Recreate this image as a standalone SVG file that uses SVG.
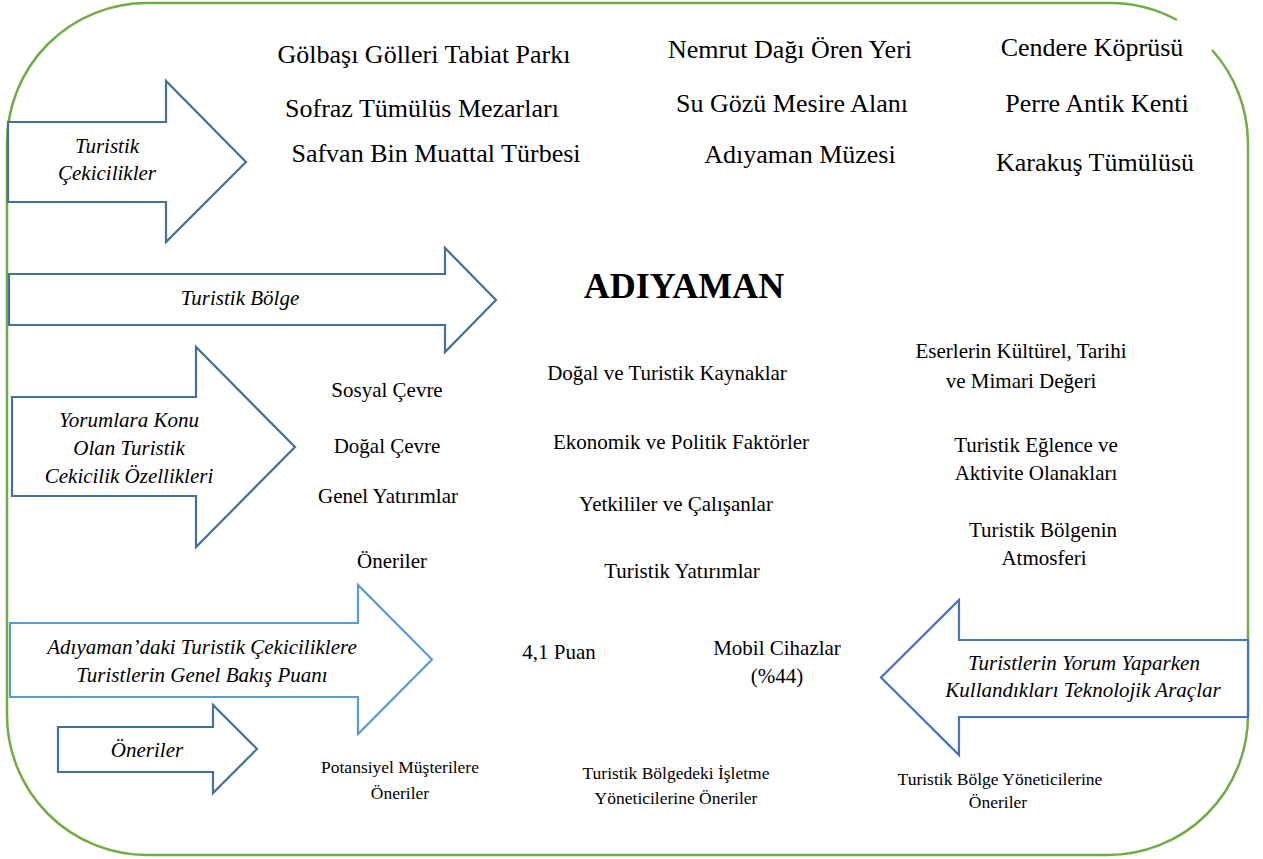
<svg xmlns="http://www.w3.org/2000/svg" width="1263" height="859" viewBox="0 0 1263 859" font-family="Liberation Serif, Tinos, Times New Roman, DejaVu Serif, serif">
<style>
text{fill:#000;text-anchor:middle}
.t26{font-size:26px}
.m21{font-size:21px}
.s18{font-size:17.5px}
.i21{font-size:21px;font-style:italic}
.big{font-size:36px;font-weight:bold}
.frame{fill:none;stroke:#70AD47;stroke-width:2.5}
.dk{fill:#fff;stroke:#41719C;stroke-width:2.2;stroke-linejoin:miter}
.lt{fill:#fff;stroke:#5B9BD5;stroke-width:2.2}
.md{fill:#fff;stroke:#4472C4;stroke-width:2.2}
</style>
<rect width="1263" height="859" fill="#fff"/>
<g id="frame">
<path class="frame" d="M1177,20 A140,140 0 0 0 1107,3 H147 A140,140 0 0 0 7,143 V715 A140,140 0 0 0 147,855 H1108 A140,140 0 0 0 1248,715 V143 A140,140 0 0 0 1212,50"/>
</g>
<g id="connectors">
<g id="arrow-cekicilikler">
<polygon class="dk" points="8,122 166,122 166,81 246,162 166,242 166,202 8,202"/>
<text class="i21" x="107" y="153">Turistik</text>
<text class="i21" x="107" y="180">Çekicilikler</text>
</g>
<g id="arrow-bolge">
<polygon class="dk" points="9,274 445,274 445,248 496,300 445,352 445,325 9,325"/>
<text class="i21" x="240" y="305">Turistik Bölge</text>
</g>
<g id="arrow-yorumlara">
<polygon class="dk" points="12,397 196,397 196,347 295,447 196,547 196,496 12,496"/>
<text class="i21" x="129" y="427">Yorumlara Konu</text>
<text class="i21" x="129" y="455">Olan Turistik</text>
<text class="i21" x="129" y="483">Cekicilik Özellikleri</text>
</g>
<g id="arrow-puan">
<polygon class="lt" points="10,623 358,623 358,585 432,659.5 358,734 358,697 10,697"/>
<text class="i21" x="202" y="654">Adıyaman’daki Turistik Çekiciliklere</text>
<text class="i21" x="202" y="682">Turistlerin Genel Bakış Puanı</text>
</g>
<g id="arrow-oneriler">
<polygon class="dk" points="58,727 213,727 213,705 257,749 213,793 213,772 58,772"/>
<text class="i21" x="147" y="757">Öneriler</text>
</g>
<g id="arrow-teknoloji">
<polygon class="md" points="1248,640 959,640 959,600 881,677.5 959,755 959,717 1248,717"/>
<text class="i21" x="1084" y="670">Turistlerin Yorum Yaparken</text>
<text class="i21" x="1083" y="697">Kullandıkları Teknolojik Araçlar</text>
</g>
</g>
<g id="attractions">
<text class="t26" x="424" y="63">Gölbaşı Gölleri Tabiat Parkı</text>
<text class="t26" x="422" y="117">Sofraz Tümülüs Mezarları</text>
<text class="t26" x="436" y="162">Safvan Bin Muattal Türbesi</text>
<text class="t26" x="790" y="58">Nemrut Dağı Ören Yeri</text>
<text class="t26" x="792" y="112">Su Gözü Mesire Alanı</text>
<text class="t26" x="800" y="163">Adıyaman Müzesi</text>
<text class="t26" x="1092" y="56">Cendere Köprüsü</text>
<text class="t26" x="1097" y="112">Perre Antik Kenti</text>
<text class="t26" x="1095" y="171">Karakuş Tümülüsü</text>
</g>
<g id="title">
<text class="big" x="684" y="298">ADIYAMAN</text>
</g>
<g id="features">
<text class="m21" x="387" y="397">Sosyal Çevre</text>
<text class="m21" x="387" y="453">Doğal Çevre</text>
<text class="m21" x="388" y="503">Genel Yatırımlar</text>
<text class="m21" x="392" y="568">Öneriler</text>
<text class="m21" x="667" y="380">Doğal ve Turistik Kaynaklar</text>
<text class="m21" x="681" y="449">Ekonomik ve Politik Faktörler</text>
<text class="m21" x="676" y="511">Yetkililer ve Çalışanlar</text>
<text class="m21" x="682" y="578">Turistik Yatırımlar</text>
<text class="m21" x="1021" y="358">Eserlerin Kültürel, Tarihi</text>
<text class="m21" x="1021" y="388">ve Mimari Değeri</text>
<text class="m21" x="1036" y="452">Turistik Eğlence ve</text>
<text class="m21" x="1036" y="480">Aktivite Olanakları</text>
<text class="m21" x="1043" y="537">Turistik Bölgenin</text>
<text class="m21" x="1044" y="565">Atmosferi</text>
</g>
<g id="results">
<text class="m21" x="559" y="659">4,1 Puan</text>
<text class="m21" x="777" y="655">Mobil Cihazlar</text>
<text class="m21" x="777" y="683">(%44)</text>
</g>
<g id="recommendations">
<text class="s18" x="400" y="773">Potansiyel Müşterilere</text>
<text class="s18" x="400" y="799">Öneriler</text>
<text class="s18" x="676" y="779">Turistik Bölgedeki İşletme</text>
<text class="s18" x="676" y="804">Yöneticilerine Öneriler</text>
<text class="s18" x="1000" y="785">Turistik Bölge Yöneticilerine</text>
<text class="s18" x="998" y="808">Öneriler</text>
</g>
</svg>
